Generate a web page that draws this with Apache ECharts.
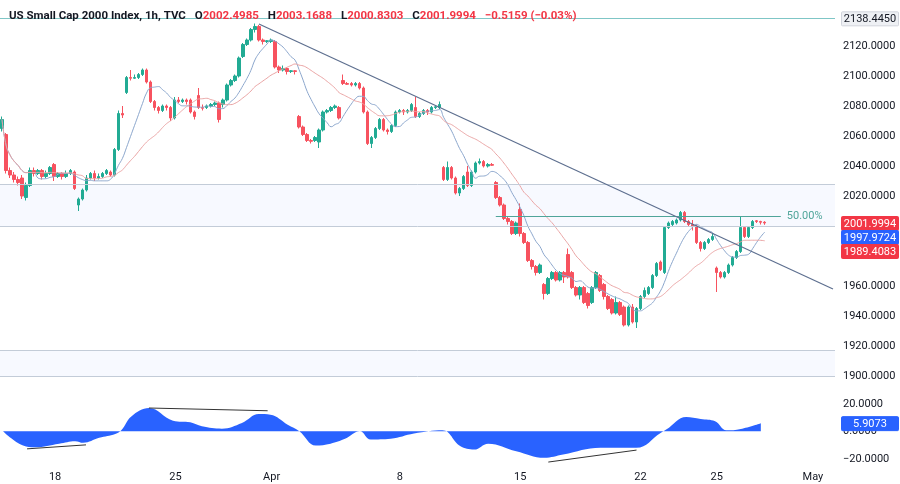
<!DOCTYPE html>
<html><head><meta charset="utf-8">
<script src="https://cdn.jsdelivr.net/npm/echarts@6/dist/echarts.min.js"></script>
<style>html,body{margin:0;padding:0;background:#fff}#c{width:900px;height:484px}</style>
</head><body><div id="c"></div>
<script>
// [open, close, low, high]
const candles = [
[2065,2071,2063,2073],[2061,2037,2035,2062],[2037,2034,2032,2039],[2034,2031,2029,2036],[2031,2029,2027,2033],
[2032,2020,2018,2034],[2019,2027,2017,2029],[2027,2037,2026,2039],[2037,2035,2033,2039],[2035,2037,2034,2038],
[2037,2033,2031,2038],[2033,2035,2032,2037],[2035,2039,2034,2040],[2041,2033,2030,2042],[2033,2035,2032,2036],
[2035,2033,2031,2036],[2033,2035,2032,2037],[2035,2037,2034,2038],[2036,2025,2024,2037],[2014,2018,2010,2019],
[2018,2024,2017,2025],[2024,2032,2023,2034],[2032,2035,2031,2036],[2035,2032,2030,2037],[2032,2033,2031,2035],
[2033,2035,2032,2036],[2035,2037,2034,2038],[2036,2034,2033,2037],[2034,2051,2033,2052],[2051,2075,2050,2077],
[2075,2074,2072,2080],[2089,2099,2088,2100],[2099,2098.5,2097,2104],[2098.5,2099,2098,2101],[2099,2101,2098,2102],
[2101,2104,2100,2105],[2104,2096,2095,2105],[2096,2083,2082,2097],[2083,2079,2077,2084],[2079,2077,2075,2080],
[2077,2080,2076,2081],[2080,2079,2077,2081],[2079,2072,2070,2080],[2072,2084,2071,2086],[2084,2083,2082,2086],
[2083,2084,2082,2085],[2084,2083,2081,2085],[2084,2076,2075,2085],[2076,2073,2071,2077],[2087,2079,2078,2092],
[2079,2078.5,2077,2081],[2079,2080,2078,2081],[2080,2081,2079,2082],[2081,2082,2080,2083],[2082,2071,2069,2083],
[2081,2084,2079,2085],[2084,2094,2083,2095],[2094,2097,2093,2098],[2097,2100,2096,2101],[2100,2112,2099,2113],
[2113,2121,2112,2122],[2121,2124,2120,2125],[2124,2131,2123,2132],[2131,2133,2129,2135],[2133,2124,2123,2134],
[2124,2123,2121,2125],[2123,2123.5,2122,2124],[2123,2124,2122,2125],[2123,2106,2105,2124],[2106,2104,2102,2107],
[2104,2105,2103,2107],[2105,2103,2101,2106],[2103,2103.5,2102,2104],[2103.5,2103,2101,2104],[2073,2066,2065,2074],
[2066,2061,2060,2067],[2061,2057,2056,2062],[2057,2056.5,2055,2058],[2057,2059,2056,2060],[2056,2064,2052,2065],
[2064,2076,2063,2077],[2076,2077,2075,2078],[2077,2079,2076,2080],[2079,2080,2078,2081],[2079,2072,2071,2080],
[2097,2095,2094,2101],[2095,2094.5,2094,2096],[2095,2094,2093,2096],[2094,2095,2093,2096],[2095,2092,2091,2096],
[2092,2076,2075,2093],[2076,2055,2054,2077],[2055,2059,2052,2060],[2059,2065,2058,2066],[2065,2071,2064,2072],
[2071,2064,2063,2072],[2064,2063,2061,2065],[2063,2067,2062,2068],[2067,2076,2066,2077],[2076,2077,2075,2078],
[2077,2076,2074,2078],[2076,2077,2075,2078],[2077,2081,2076,2082],[2079,2073,2072,2086],[2073,2075,2072,2076],
[2075,2077,2074,2078],[2077,2076,2074,2078],[2076,2079,2075,2080],[2079,2079.5,2078,2080],[2079,2081,2078,2083],
[2039,2031,2030,2040],[2031,2039,2030,2043],[2039,2032,2031,2040],[2032,2022,2021,2033],[2022,2025,2020,2026],
[2025,2033,2024,2034],[2036,2027,2026,2040],[2027,2036,2026,2037],[2036,2042,2035,2043],[2042,2043,2041,2045],
[2043,2040,2039,2044],[2040,2041,2039,2042],[2041,2040.5,2040,2042],[2029,2019,2018,2030],[2019,2014,2013,2020],
[2014,2005,2004,2015],[2005,2003,2001,2006],[2003,1995,1994,2004],[1995,2002,1994,2003],[2011,1995,1993,2015],
[1995,1989,1988,1996],[1989,1977,1976,1990],[1977,1973,1971,1978],[1973,1969,1967,1974],[1969,1974,1968,1975],
[1961,1955,1951,1962],[1955,1965,1954,1966],[1965,1969,1964,1970],[1969,1964,1963,1970],[1964,1969,1963,1970],
[1969,1966,1962,1970],[1981,1966,1965,1985],[1969,1959,1958,1970],[1959,1954,1953,1960],[1954,1959,1951,1960],
[1959,1949,1948,1960],[1955,1947,1945,1956],[1949,1959,1948,1960],[1959,1969,1958,1970],[1967,1957,1956,1968],
[1961,1953,1951,1962],[1953,1945,1944,1954],[1951,1942,1941,1952],[1942,1949,1941,1953],[1949,1941,1940,1950],
[1946,1934,1933,1947],[1934,1946,1933,1947],[1946,1936,1935,1948],[1936,1945,1932,1946],[1945,1953,1944,1954],
[1953,1957,1952,1959],[1955,1959,1954,1960],[1959,1967,1958,1968],[1967,1975,1966,1976],[1976,1971,1970,1977],
[1969,1999,1968,2000],[1999,2002,1998,2003],[2001,2003,2000,2004],[2002,2004,2001,2005],[2004,2009,2003,2010],
[2009,2003,2002,2010],[2003,2001,2000,2004],[2001,2000,1997,2004],[2000,1989,1988,2001],[1989,1985,1983,1990],
[1985,1989,1984,1990],[1989,1991,1988,1992],[1991,1993,1990,1995],[1972,1969,1956,1973],[1969,1966,1965,1970],
[1966,1969,1965,1970],[1969,1974,1968,1975],[1974,1979,1973,1980],[1979,1983,1978,1984],[1983,1999,1982,2006],
[1999,1993,1992,2000],[1993,1999,1992,2000],[1999,2003,1998,2004],[2003.5,2003,2002,2004],[2003,2002.5,2001,2003.5],
[2002.5,2002,2000.8,2003.2]
];
const dateLabels = {13:'18',43:'25',67:'Apr',99:'8',129:'15',159:'22',178:'25',202:'May'};
// oscillator [barIndex, value]
const osc = [[0,0],[5,-10.4],[8,-11.6],[14,-9],[18,-7.2],[20,-8.4],[24,-4.8],[28,-2],[29.5,0.7],[32,10.8],[36.4,16.9],
[42.4,7.7],[46.7,6.5],[49.6,3.6],[54.6,1.9],[59.6,6],[63.8,12.5],[66.7,12],[71,4.8],[73.9,0],[78,-10.4],[81.7,-9],
[85.3,-5.5],[89,0],[91.7,-6],[96.7,-5.5],[102.5,-1.7],[109.6,0.7],[114,-10.8],[117.5,-13.3],[121,-9],[128,-14.5],
[135,-19.3],[139.7,-16.9],[149,-12],[158,-12],[164,-1.2],[165.4,1.2],[170.4,10.4],[174,8.9],[177.6,7.2],[180.4,0.7],
[184,1.7],[189,5.9]];
const divergences = [[[6,-12.8],[20.7,-9.9]],[[36.4,16.9],[66,14.9]],[[136,-22.4],[158,-13.7]]];
const trendLine = [[63.8,2134.7],[207,1958]];
const zones = [[2000,2028],[1900,1917.3]];
const fibLevel = 2006.67, fibStart = 123, fibEnd = 194;
const topLevel = 2138.445;
const lastClose = 2001.9994, maFastLast = 1997.9724, maSlowLast = 1989.4083, oscLast = 5.9073;

const N = 208;
const cats = Array.from({length:N},(_,i)=>dateLabels[i]||'');
const closes = candles.map(c=>c[1]);
function sma(p){return closes.map((_,i)=>{const s=Math.max(0,i-p+1);let t=0;for(let j=s;j<=i;j++)t+=closes[j];return +(t/(i-s+1)).toFixed(2);});}
const maFast = sma(9), maSlow = sma(21);
const UP='#22ab94', DN='#f7525f';
const f4 = v=>v.toFixed(4);
const chart = echarts.init(document.getElementById('c'));
chart.setOption({
  animation:false,
  textStyle:{fontFamily:'Roboto, sans-serif'},
  title:{left:4,top:2,text:'{n|US Small Cap 2000 Index, 1h, TVC}  {k|O}{v|2002.4985}  {k|H}{v|2003.1688}  {k|L}{v|2000.8303}  {k|C}{v|2001.9994}  {v|−0.5159 (−0.03%)}',
    textStyle:{rich:{n:{fontSize:11.5,color:'#131722'},k:{fontSize:11.5,color:'#131722'},v:{fontSize:11.5,color:'#f23645'}}}},
  grid:[{left:0,right:65,top:16,height:390},{left:0,right:65,top:390,height:82.5}],
  xAxis:[
    {type:'category',gridIndex:0,data:cats,boundaryGap:true,axisLine:{show:false},axisTick:{show:false},axisLabel:{show:false}},
    {type:'category',gridIndex:1,data:cats,boundaryGap:true,axisLine:{show:false},axisTick:{show:false},
      axisLabel:{interval:0,margin:-1,color:'#131722',fontSize:11}},
    {type:'value',gridIndex:1,min:-0.5,max:N-0.5,show:false}
  ],
  yAxis:[
    {type:'value',gridIndex:0,position:'right',min:1880,max:2140,interval:20,splitLine:{show:false},
      axisLine:{show:false},axisTick:{show:false},axisLabel:{showMinLabel:false,showMaxLabel:false,color:'#131722',fontSize:11,margin:8,formatter:v=>f4(v)}},
    {type:'value',gridIndex:1,position:'right',min:-30,max:30,interval:10,splitLine:{show:false},
      axisLine:{show:false},axisTick:{show:false},axisLabel:{color:'#131722',fontSize:11,margin:8,
        formatter:v=>(v===20||v===0)?f4(v):(v===-20?'−20.0000':'')}}
  ],
  series:[
    {type:'candlestick',xAxisIndex:0,yAxisIndex:0,data:candles,barWidth:3,
      itemStyle:{color:UP,color0:DN,borderColor:UP,borderColor0:DN,borderWidth:1},
      markArea:{silent:true,itemStyle:{color:'rgba(41,98,255,0.04)'},data:zones.map(z=>[{yAxis:z[0]},{yAxis:z[1]}])},
      markLine:{silent:true,symbol:'none',animation:false,data:[
        ...zones.flat().map(v=>({yAxis:v,lineStyle:{color:'#c3ccd8',width:1,type:'solid'},label:{show:false}})),
        {yAxis:topLevel,lineStyle:{color:'#7fc6c6',width:1.2,type:'solid'},label:{show:false}},
        [{coord:[fibStart,fibLevel],lineStyle:{color:'#4fa59a',width:1,type:'solid'},label:{show:true,position:'end',formatter:'50.00%',color:'#4fa59a',fontSize:11,distance:6}},{coord:[fibEnd,fibLevel]}],
        [{coord:trendLine[0],lineStyle:{color:'#5d6f8f',width:1.2,type:'solid'},label:{show:false}},{coord:trendLine[1]}]
      ]}},
    {type:'line',xAxisIndex:0,yAxisIndex:0,data:maFast,showSymbol:false,smooth:true,lineStyle:{color:'#8ba6cc',width:1},z:3},
    {type:'line',xAxisIndex:0,yAxisIndex:0,data:maSlow,showSymbol:false,smooth:true,lineStyle:{color:'#e9a3a3',width:1},z:3},
    {type:'line',xAxisIndex:2,yAxisIndex:1,data:osc,showSymbol:false,smooth:0.4,lineStyle:{width:0},
      areaStyle:{color:'#2962ff',opacity:1,origin:0},
      markLine:{silent:true,symbol:'none',data:divergences.map(d=>[{coord:d[0],lineStyle:{color:'#333',width:1,type:'solid'},label:{show:false}},{coord:d[1]}])}}
  ]
});
function box(y,text,bg,fg,border){
  return {type:'group',left:841,top:y-7,z:1000,children:[
    {type:'rect',z:1000,shape:{x:0,y:0,width:57,height:14,r:1},style:{fill:bg,stroke:border||bg}},
    {type:'text',z:1001,style:{x:28.5,y:7.5,text:text,fill:fg,font:'11px Roboto, sans-serif',textAlign:'center',textVerticalAlign:'middle'}}]};
}
const yTop = chart.convertToPixel({yAxisIndex:0},topLevel);
const yLast = chart.convertToPixel({yAxisIndex:0},lastClose);
const yOsc = chart.convertToPixel({yAxisIndex:1},oscLast);
chart.setOption({graphic:[
  box(yTop,f4(topLevel),'#eef0f4','#131722','#d1d4dc'),
  box(yLast,f4(lastClose),'#f23645','#fff'),
  box(yLast+14,f4(maFastLast),'#2962ff','#fff'),
  box(yLast+28,f4(maSlowLast),'#f23645','#fff'),
  box(yOsc,f4(oscLast),'#2962ff','#fff')
]});
</script></body></html>
